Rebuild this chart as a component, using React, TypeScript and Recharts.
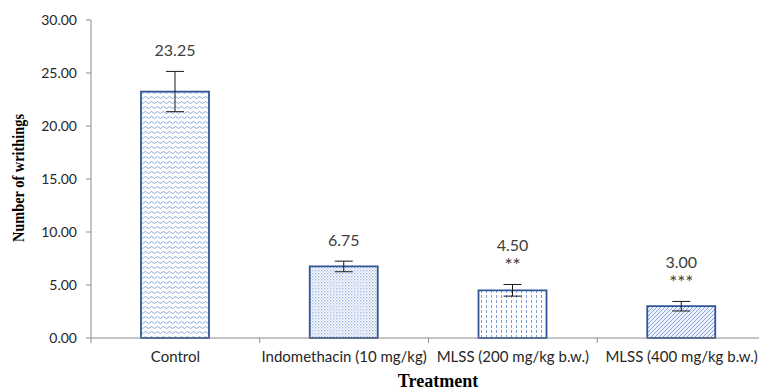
import React from 'react';
import { BarChart, Bar, XAxis, YAxis, ErrorBar, Cell, LabelList, Label } from 'recharts';

const categories = ['Control', 'Indomethacin (10 mg/kg)', 'MLSS (200 mg/kg b.w.)', 'MLSS (400 mg/kg b.w.)'];
const means = [23.25, 6.75, 4.5, 3.0];
const errors = [1.9, 0.5, 0.55, 0.45];
const stars = ['', '', '**', '***'];
const yTicks = [0, 5, 10, 15, 20, 25, 30];
const patternIds = ['pWave', 'pDots', 'pVDash', 'pDiag'];

const data = categories.map((name, i) => ({ name, mean: means[i], err: errors[i], stars: stars[i] }));

const AXIS = '#8c8c8c';
const BORDER = '#2f5597';
const PAT = '#7f9ed8';
const SANS = "Lato, 'Open Sans', sans-serif";

const Patterns = () => (
  <svg width={0} height={0} style={{ position: 'absolute' }}>
    <defs>
      <pattern id="pWave" width={6} height={5} patternUnits="userSpaceOnUse">
        <rect width={6} height={5} fill="#fff" />
        <path d="M0 2.5 L1.5 1.5 L3 2.5 L4.5 3.5 L6 2.5" stroke={PAT} strokeWidth={0.9} fill="none" />
      </pattern>
      <pattern id="pDots" width={3} height={3} patternUnits="userSpaceOnUse">
        <rect width={3} height={3} fill="#fff" />
        <rect width={1.4} height={1.4} fill="#9fb6e2" />
        <rect x={1.5} y={1.5} width={1.4} height={1.4} fill="#c4d3ef" />
      </pattern>
      <pattern id="pVDash" width={5} height={5} patternUnits="userSpaceOnUse">
        <rect width={5} height={5} fill="#fff" />
        <line x1={1.5} y1={0} x2={1.5} y2={3} stroke={PAT} strokeWidth={1} />
      </pattern>
      <pattern id="pDiag" width={4} height={4} patternUnits="userSpaceOnUse">
        <rect width={4} height={4} fill="#eef2fa" />
        <path d="M-1 1 L1 -1 M0 4 L4 0 M3 5 L5 3" stroke="#7b9bd6" strokeWidth={0.9} />
      </pattern>
    </defs>
  </svg>
);

const ValueLabel = (props: any) => {
  const { x, y, width, height, value, index } = props;
  const pxPerUnit = height / value;
  const errTop = y - errors[index] * pxPerUnit;
  const cx = x + width / 2;
  const s = stars[index];
  return (
    <g>
      <text x={cx} y={s ? errTop - 40 : errTop - 22} textAnchor="middle" dominantBaseline="central"
        fontFamily={SANS} fontSize={16} fill="#404040">
        {Number(value).toFixed(2)}
      </text>
      {s ? (
        <text x={cx} y={errTop - 20} textAnchor="middle" dominantBaseline="central"
          fontFamily={SANS} fontSize={19} fill="#404040">
          {s}
        </text>
      ) : null}
    </g>
  );
};

const CategoryTick = (props: any) => {
  const { x, y, payload } = props;
  const half = payload && payload.offset ? payload.offset : 0;
  const last = payload && payload.index === categories.length - 1;
  return (
    <g>
      <line x1={x - half} x2={x - half} y1={y} y2={y + 5} stroke={AXIS} />
      {last ? <line x1={x + half} x2={x + half} y1={y} y2={y + 5} stroke={AXIS} /> : null}
      <text x={x} y={y + 13} dy="0.71em" textAnchor="middle" fontFamily={SANS} fontSize={15} fill="#262626">
        {payload.value}
      </text>
    </g>
  );
};

export default function App() {
  return (
    <div style={{ position: 'absolute', left: 0, top: 0, width: 759, height: 392, overflow: 'hidden', background: '#fff' }}>
      <Patterns />
      <BarChart width={766} height={392} data={data} margin={{ top: 20, right: 0, left: 31, bottom: 0 }} barCategoryGap={0}>
        <XAxis dataKey="name" tickLine={false} axisLine={{ stroke: AXIS, strokeWidth: 1 }} height={54}
          tickSize={0} tickMargin={0} interval={0} tick={CategoryTick}>
          <Label content={() => (
            <text x={438} y={381} textAnchor="middle" dominantBaseline="central"
              fontFamily="'Liberation Serif', serif" fontWeight="bold" fontSize={18} fill="#000">Treatment</text>
          )} />
        </XAxis>
        <YAxis domain={[0, 30]} ticks={yTicks} width={60} tickSize={5} tickMargin={9}
          axisLine={{ stroke: AXIS }} tickLine={{ stroke: AXIS }} tickFormatter={(v: number) => v.toFixed(2)}
          tick={{ fontFamily: SANS, fontSize: 14, fill: '#262626' }}>
          <Label content={() => (
            <text x={18} y={178} transform="rotate(-90, 18, 178)" textAnchor="middle" dominantBaseline="central"
              fontFamily="'Liberation Serif', serif" fontWeight="bold" fontSize={16} textLength={128}
              lengthAdjust="spacingAndGlyphs" fill="#000">Number of writhings</text>
          )} />
        </YAxis>
        <Bar dataKey="mean" barSize={68} stroke={BORDER} strokeWidth={1.8} isAnimationActive={false}>
          {data.map((d, i) => (
            <Cell key={d.name} fill={`url(#${patternIds[i]})`} />
          ))}
          <ErrorBar dataKey="err" width={9} stroke="#1a1a1a" strokeWidth={1} direction="y" />
          <LabelList dataKey="mean" content={ValueLabel} />
        </Bar>
      </BarChart>
    </div>
  );
}
